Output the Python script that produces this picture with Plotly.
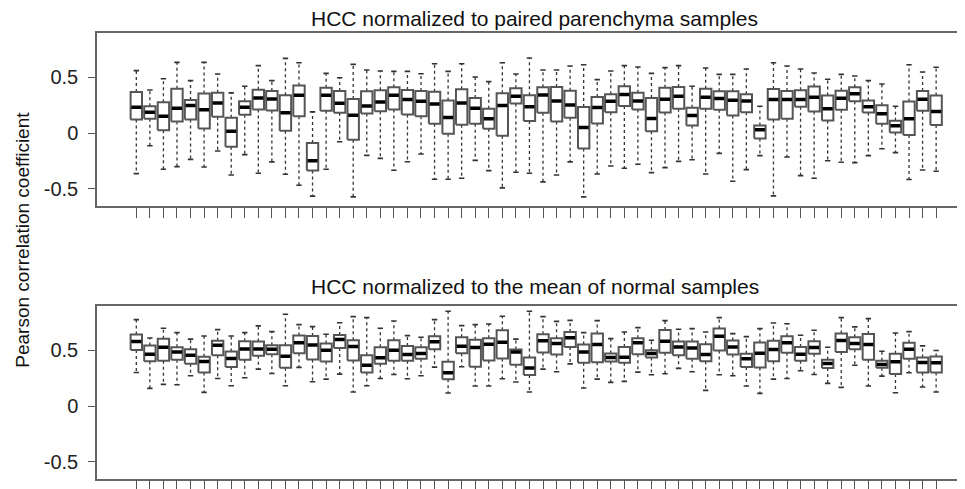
import plotly.graph_objects as go

# ---- data ----
samples = list(range(1, 61))

top_high = [0.56,0.387,0.488,0.634,0.471,0.634,0.53,0.361,0.42,0.605,
            0.471,0.67,0.631,0.191,0.536,0.497,0.616,0.566,0.557,0.554,
            0.554,0.533,0.622,0.554,0.622,0.503,0.462,0.631,0.53,0.673,
            0.566,0.566,0.602,0.613,0.48,0.557,0.605,0.593,0.536,0.587,
            0.605,0.42,0.584,0.527,0.527,0.575,0.241,0.631,0.602,0.575,
            0.539,0.483,0.527,0.512,0.471,0.441,0.241,0.613,0.548,0.59]
top_q3 = [0.369,0.241,0.277,0.399,0.298,0.355,0.361,0.137,0.286,0.39,
          0.378,0.34,0.426,-0.089,0.408,0.378,0.307,0.375,0.384,0.411,
          0.387,0.378,0.372,0.292,0.393,0.316,0.218,0.358,0.402,0.34,
          0.411,0.414,0.381,0.235,0.325,0.349,0.42,0.361,0.316,0.408,
          0.414,0.227,0.399,0.375,0.375,0.349,0.069,0.396,0.378,0.384,
          0.417,0.337,0.381,0.411,0.292,0.25,0.111,0.283,0.378,0.337]
top_med = [0.233,0.188,0.152,0.224,0.247,0.209,0.271,0.018,0.233,0.316,
           0.307,0.182,0.34,-0.247,0.34,0.268,0.161,0.244,0.28,0.34,
           0.301,0.286,0.262,0.14,0.271,0.224,0.128,0.247,0.331,0.236,
           0.343,0.289,0.253,0.051,0.23,0.286,0.346,0.289,0.131,0.304,
           0.331,0.158,0.322,0.31,0.295,0.289,0.03,0.301,0.301,0.301,
           0.322,0.218,0.313,0.352,0.236,0.173,0.066,0.128,0.304,0.194]
top_q1 = [0.122,0.128,0.027,0.105,0.122,0.042,0.146,-0.122,0.164,0.212,
          0.203,0.021,0.152,-0.336,0.2,0.182,-0.059,0.176,0.197,0.212,
          0.167,0.152,0.084,-0.006,0.075,0.084,0.039,-0.023,0.265,0.108,
          0.182,0.105,0.137,-0.137,0.087,0.188,0.244,0.212,0.018,0.185,
          0.218,0.069,0.218,0.209,0.158,0.188,-0.047,0.122,0.128,0.236,
          0.194,0.113,0.209,0.286,0.185,0.084,0.006,-0.017,0.2,0.072]
top_low = [-0.363,-0.113,-0.324,-0.3,-0.235,-0.303,-0.16,-0.375,-0.193,-0.36,
           -0.258,-0.369,-0.467,-0.565,-0.324,-0.077,-0.571,-0.199,-0.226,-0.333,
           -0.256,-0.187,-0.413,-0.413,-0.404,-0.244,-0.336,-0.491,-0.351,-0.36,
           -0.437,-0.375,-0.258,-0.571,-0.366,-0.294,-0.315,-0.279,-0.354,-0.309,
           -0.253,-0.238,-0.366,-0.181,-0.431,-0.327,-0.202,-0.562,-0.214,-0.381,
           -0.404,-0.247,-0.261,-0.264,-0.202,-0.14,-0.175,-0.416,-0.33,-0.342]

bot_high = [0.774,0.61,0.697,0.658,0.6,0.628,0.685,0.628,0.658,0.718,
            0.667,0.822,0.73,0.712,0.643,0.747,0.801,0.792,0.697,0.762,
            0.631,0.616,0.774,0.849,0.721,0.73,0.735,0.804,0.6,0.849,
            0.801,0.759,0.768,0.658,0.765,0.604,0.664,0.703,0.59,0.765,
            0.688,0.694,0.664,0.792,0.649,0.622,0.694,0.744,0.738,0.634,
            0.679,0.527,0.792,0.709,0.783,0.491,0.655,0.667,0.539,0.497]
bot_q3 = [0.64,0.542,0.604,0.527,0.509,0.441,0.584,0.488,0.581,0.578,
          0.545,0.545,0.631,0.628,0.56,0.637,0.59,0.456,0.527,0.59,
          0.539,0.527,0.625,0.396,0.616,0.593,0.607,0.679,0.506,0.435,
          0.643,0.607,0.664,0.551,0.649,0.471,0.53,0.608,0.5,0.682,
          0.578,0.578,0.554,0.694,0.587,0.468,0.569,0.584,0.625,0.53,
          0.581,0.414,0.649,0.616,0.646,0.405,0.468,0.566,0.435,0.444]
bot_med = [0.578,0.465,0.527,0.485,0.456,0.399,0.545,0.426,0.512,0.512,
           0.509,0.447,0.566,0.548,0.5,0.596,0.533,0.366,0.432,0.5,
           0.462,0.471,0.575,0.298,0.536,0.524,0.554,0.572,0.485,0.34,
           0.584,0.56,0.613,0.485,0.551,0.435,0.438,0.566,0.47,0.581,
           0.53,0.521,0.462,0.625,0.53,0.423,0.474,0.506,0.566,0.465,
           0.524,0.381,0.587,0.56,0.551,0.372,0.396,0.509,0.39,0.387]
bot_q1 = [0.503,0.402,0.405,0.414,0.378,0.301,0.456,0.349,0.414,0.45,
          0.465,0.343,0.474,0.417,0.399,0.521,0.408,0.301,0.378,0.405,
          0.405,0.423,0.509,0.241,0.474,0.352,0.408,0.426,0.369,0.277,
          0.479,0.462,0.53,0.387,0.393,0.399,0.387,0.465,0.435,0.477,
          0.456,0.423,0.402,0.497,0.462,0.349,0.346,0.402,0.477,0.405,
          0.468,0.34,0.485,0.509,0.414,0.343,0.286,0.423,0.301,0.301]
bot_low = [0.301,0.158,0.194,0.191,0.271,0.122,0.247,0.182,0.253,0.331,
           0.292,0.182,0.346,0.218,0.241,0.286,0.125,0.182,0.247,0.283,
           0.244,0.271,0.349,0.116,0.352,0.179,0.179,0.244,0.215,0.125,
           0.331,0.307,0.378,0.161,0.241,0.212,0.221,0.304,0.28,0.289,
           0.337,0.307,0.14,0.28,0.271,0.179,0.113,0.241,0.247,0.316,
           0.283,0.203,0.167,0.366,0.179,0.268,0.119,0.298,0.17,0.125]

y_ticks = [-0.5, 0, 0.5]
y_ticktext = ["-0.5", "0", "0.5"]
titles = ["HCC normalized to paired parenchyma samples",
          "HCC normalized to the mean of normal samples"]
y_title = "Pearson correlation coefficient"

# ---- styling ----
BOX_HW = 0.42
CAP_HW = 0.2
BOX_COL = "#555555"
WHISK_COL = "#333333"
FONT = "Liberation Sans, Arial, sans-serif"

fig = go.Figure()


def add_panel(low, q1, med, q3, high, xa, ya):
    wx, wy = [], []
    cx, cy = [], []
    bx, by = [], []
    mx, my = [], []
    for i, s in enumerate(samples):
        wx += [s, s, None, s, s, None]
        wy += [q3[i], high[i], None, q1[i], low[i], None]
        cx += [s - CAP_HW, s + CAP_HW, None, s - CAP_HW, s + CAP_HW, None]
        cy += [high[i], high[i], None, low[i], low[i], None]
        bx += [s - BOX_HW, s + BOX_HW, s + BOX_HW, s - BOX_HW, s - BOX_HW, None]
        by += [q1[i], q1[i], q3[i], q3[i], q1[i], None]
        mx += [s - BOX_HW + 0.05, s + BOX_HW - 0.05, None]
        my += [med[i], med[i], None]
    common = dict(mode="lines", hoverinfo="skip", showlegend=False, xaxis=xa, yaxis=ya)
    fig.add_trace(go.Scatter(x=wx, y=wy, line=dict(color=WHISK_COL, width=1.3, dash="3px,3px"), **common))
    fig.add_trace(go.Scatter(x=cx, y=cy, line=dict(color=WHISK_COL, width=1.6), **common))
    fig.add_trace(go.Scatter(x=bx, y=by, line=dict(color=BOX_COL, width=2), **common))
    fig.add_trace(go.Scatter(x=mx, y=my, line=dict(color="#000000", width=3.5), **common))


add_panel(top_low, top_q1, top_med, top_q3, top_high, "x", "y")
add_panel(bot_low, bot_q1, bot_med, bot_q3, bot_high, "x2", "y2")

# page has an 8px body margin: figure sits at (8, 8) in the window
OFF = 8.0
W = 965.0 - OFF
H = 489.0 - OFF
L = 97.3 - OFF
xr = [-1.9, 62.13]
yr = [-0.652, 0.896]


def py(screen_y):
    return 1 - (screen_y - OFF) / H


def px(screen_x):
    return (screen_x - OFF - L) / (W - L)


xcommon = dict(range=xr, showline=True, mirror=True, linecolor="#666666", linewidth=1.5,
               ticks="outside", tickvals=samples, ticklen=10, tickwidth=1.3, tickcolor="#555555",
               showticklabels=False, showgrid=False, zeroline=False, fixedrange=True)
ycommon = dict(range=yr, showline=True, mirror=False, linecolor="#666666", linewidth=1.5,
               ticks="outside", tickvals=y_ticks, ticktext=y_ticktext, ticklen=7, tickwidth=1.3,
               tickcolor="#555555", showgrid=False, zeroline=False,
               tickfont=dict(family=FONT, size=20, color="#222222"), ticklabelstandoff=6)

fig.update_layout(
    width=W, height=H,
    margin=dict(l=L, r=0, t=0, b=0),
    paper_bgcolor="white", plot_bgcolor="white",
    xaxis=dict(domain=[0, 1], anchor="y", **xcommon),
    yaxis=dict(domain=[py(206.7), py(33.3)], anchor="x", **ycommon),
    xaxis2=dict(domain=[0, 1], anchor="y2", **xcommon),
    yaxis2=dict(domain=[py(480.7), py(307.3)], anchor="x2", **ycommon),
    annotations=[
        dict(text=titles[0], xref="paper", yref="paper", x=px(535), y=py(19),
             xanchor="center", yanchor="middle", showarrow=False, borderpad=0,
             font=dict(family=FONT, size=21, color="#111111")),
        dict(text=titles[1], xref="paper", yref="paper", x=px(535), y=py(288),
             xanchor="center", yanchor="middle", showarrow=False, borderpad=0,
             font=dict(family=FONT, size=21, color="#111111")),
        dict(text=y_title, xref="paper", yref="paper", x=px(22), y=py(241),
             xanchor="center", yanchor="middle", textangle=-90, showarrow=False,
             font=dict(family=FONT, size=19, color="#111111")),
    ],
)

fig.write_html("out.html")
